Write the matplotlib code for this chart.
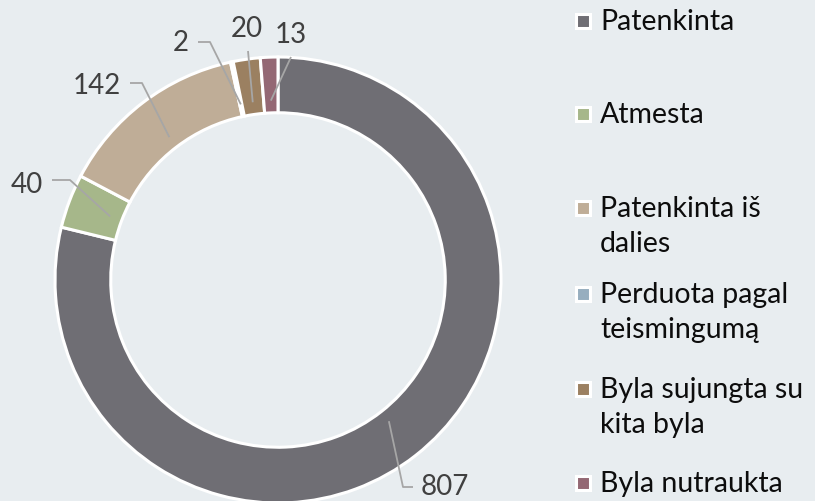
import numpy as np
import matplotlib
matplotlib.use("Agg")
import matplotlib.pyplot as plt
from matplotlib.patches import Rectangle

# data
categories = ["Patenkinta", "Atmesta", "Patenkinta iš dalies", "Perduota pagal teismingumą",
              "Byla sujungta su kita byla", "Byla nutraukta"]
legend_labels = ["Patenkinta", "Atmesta", "Patenkinta iš\ndalies", "Perduota pagal\nteismingumą",
                 "Byla sujungta su\nkita byla", "Byla nutraukta"]
values = [807, 40, 142, 2, 20, 13]
colors = ["#6f6e74", "#a6b78a", "#bfad97", "#97aebf", "#9b8061", "#946874"]

bg = "#e8edf0"
plt.rcParams["font.family"] = ["Lato", "DejaVu Sans"]

W, H = 815, 502
fig = plt.figure(figsize=(W / 100, H / 100), dpi=100, facecolor=bg)
ax = fig.add_axes([0, 0, 1, 1])
ax.set_facecolor(bg)

cx, cy, R = 278, 221, 223
ring = 0.25
wedges, _ = ax.pie(values, colors=colors, startangle=90, counterclock=False,
                   radius=R, center=(cx, cy), frame=True,
                   wedgeprops=dict(width=R * ring, edgecolor="white", linewidth=2.2))
ax.set_xlim(0, W)
ax.set_ylim(0, H)
ax.set_aspect("equal")
ax.axis("off")

# label elbow points and text positions (pixel layout, y from top)
elbows = [(403, 488, 413), (70, 181, 52), (142, 84, 130), (210, 43, 198), (248, 52, 248), (291, 58, 291)]
text_pos = [(445, 487), (27, 185), (97, 86), (181, 43), (247, 29), (291, 35)]

rmid = R * (1 - ring / 2) * 0.92
for w, v, (ex, ey, hx), (tx, ty) in zip(wedges, values, elbows, text_pos):
    ang = np.deg2rad((w.theta1 + w.theta2) / 2)
    px, py = cx + rmid * np.cos(ang), cy + rmid * np.sin(ang)
    ax.plot([px, ex, hx], [py, H - ey, H - ey], color="#a6a6a6", lw=1.3, solid_capstyle="butt")
    ax.text(tx, H - ty, str(v), ha="center", va="center", fontsize=20, color="#404040")

# legend
leg_y = [22, 115, 209, 295, 390, 484]
for lab, c, y in zip(legend_labels, colors, leg_y):
    ax.add_patch(Rectangle((576, H - y - 7), 14, 14, facecolor=c, edgecolor="white", lw=2.2))
    for k, ln in enumerate(lab.split("\n")):
        ax.text(600, H - y - k * 35, ln, ha="left", va="center", fontsize=20.5, color="#0d0d0d")

fig.savefig("out.png", dpi=100, facecolor=bg)
